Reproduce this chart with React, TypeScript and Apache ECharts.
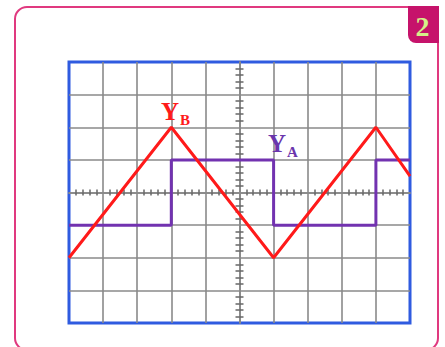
import React, { useEffect, useRef } from "react";
import * as echarts from "echarts";

// Oscilloscope screen: 10 horizontal divisions, 8 vertical divisions
const xDivisions = [0, 10];
const yDivisions = [-4, 4];

// Y_B: triangular wave (red)
const ybTime = [0, 3, 6, 9, 10];
const ybValue = [-2, 2, -2, 2, 0.5];

// Y_A: square wave (purple)
const yaTime = [0, 3, 3, 6, 6, 9, 9, 10];
const yaValue = [-1, -1, 1, 1, -1, -1, 1, 1];

const badgeLabel = "2";

export default function App() {
  const ref = useRef<HTMLDivElement>(null);

  useEffect(() => {
    if (!ref.current) return;
    const chart = echarts.init(ref.current, null, { renderer: "svg" });

    const gridLeft = 69;
    const gridWidth = 341;
    const gridColor = "#8a8a8a";
    const centerAxisX = (pos: "top" | "bottom") => ({
      type: "value",
      min: xDivisions[0],
      max: xDivisions[1],
      interval: 1,
      position: pos,
      axisLine: { show: true, onZero: true, onZeroAxisIndex: 0, lineStyle: { color: gridColor, width: 1.5 } },
      axisTick: { show: false },
      minorTick: { show: true, splitNumber: 5, length: 3, lineStyle: { color: "#666", width: 1.5 } },
      axisLabel: { show: false },
      splitLine: { show: false },
    });
    const centerAxisY = (pos: "left" | "right") => ({
      type: "value",
      min: yDivisions[0],
      max: yDivisions[1],
      interval: 1,
      position: pos,
      offset: -gridWidth / 2,
      axisLine: { show: true, onZero: false, lineStyle: { color: gridColor, width: 1.5 } },
      axisTick: { show: false },
      minorTick: { show: true, splitNumber: 5, length: 4, lineStyle: { color: "#666", width: 1.5 } },
      axisLabel: { show: false },
      splitLine: { show: false },
    });

    chart.setOption({
      animation: false,
      backgroundColor: "#ffffff",
      grid: {
        left: gridLeft,
        top: 62,
        width: gridWidth,
        height: 261,
        show: true,
        borderColor: "#2f5be0",
        borderWidth: 3,
        backgroundColor: "transparent",
      },
      xAxis: [
        {
          type: "value",
          min: xDivisions[0],
          max: xDivisions[1],
          interval: 1,
          axisLine: { show: false },
          axisTick: { show: false },
          axisLabel: { show: false },
          splitLine: { show: true, showMinLine: false, showMaxLine: false, lineStyle: { color: gridColor, width: 1.6 } },
        },
        centerAxisX("bottom"),
        centerAxisX("top"),
      ],
      yAxis: [
        {
          type: "value",
          min: yDivisions[0],
          max: yDivisions[1],
          interval: 1,
          axisLine: { show: false },
          axisTick: { show: false },
          axisLabel: { show: false },
          splitLine: { show: true, showMinLine: false, showMaxLine: false, lineStyle: { color: gridColor, width: 1.6 } },
        },
        centerAxisY("left"),
        centerAxisY("right"),
      ],
      series: [
        {
          name: "YA",
          type: "line",
          data: yaTime.map((t, i) => [t, yaValue[i]]),
          symbol: "none",
          lineStyle: { color: "#7232b0", width: 3 },
          z: 3,
        },
        {
          name: "YB",
          type: "line",
          data: ybTime.map((t, i) => [t, ybValue[i]]),
          symbol: "none",
          lineStyle: { color: "#ff1a1a", width: 3 },
          z: 4,
        },
      ],
      graphic: [
        {
          type: "rect",
          shape: { x: 15, y: 7, width: 423, height: 343, r: 12 },
          style: { fill: "none", stroke: "#e0397f", lineWidth: 2 },
          z: 10,
        },
        {
          type: "rect",
          shape: { x: 408, y: 6, width: 31, height: 37, r: [0, 0, 0, 8] },
          style: { fill: "#c6136b" },
          z: 11,
        },
        {
          type: "text",
          x: 422.5,
          y: 26,
          style: {
            text: badgeLabel,
            fill: "#d4f089",
            font: "bold 28px 'Liberation Serif', 'DejaVu Serif', serif",
            align: "center",
            verticalAlign: "middle",
          },
          z: 12,
        },
        {
          type: "text",
          x: 161,
          y: 100,
          style: {
            text: "{y|Y}{s|B}",
            rich: {
              y: { fill: "#ff1a1a", font: "bold 25px 'Liberation Serif', serif", verticalAlign: "bottom", lineHeight: 24 },
              s: { fill: "#ff1a1a", font: "bold 15px 'Liberation Serif', serif", verticalAlign: "bottom", lineHeight: 12, padding: [0, 0, -3, 1] },
            },
          },
          z: 12,
        },
        {
          type: "text",
          x: 268,
          y: 132,
          style: {
            text: "{y|Y}{s|A}",
            rich: {
              y: { fill: "#6a36ac", font: "bold 25px 'Liberation Serif', serif", verticalAlign: "bottom", lineHeight: 24 },
              s: { fill: "#6a36ac", font: "bold 15px 'Liberation Serif', serif", verticalAlign: "bottom", lineHeight: 12, padding: [0, 0, -3, 1] },
            },
          },
          z: 12,
        },
      ],
    });

    return () => chart.dispose();
  }, []);

  return (
    <div
      ref={ref}
      style={{ position: "fixed", left: 0, top: 0, width: 445, height: 347 }}
    />
  );
}
